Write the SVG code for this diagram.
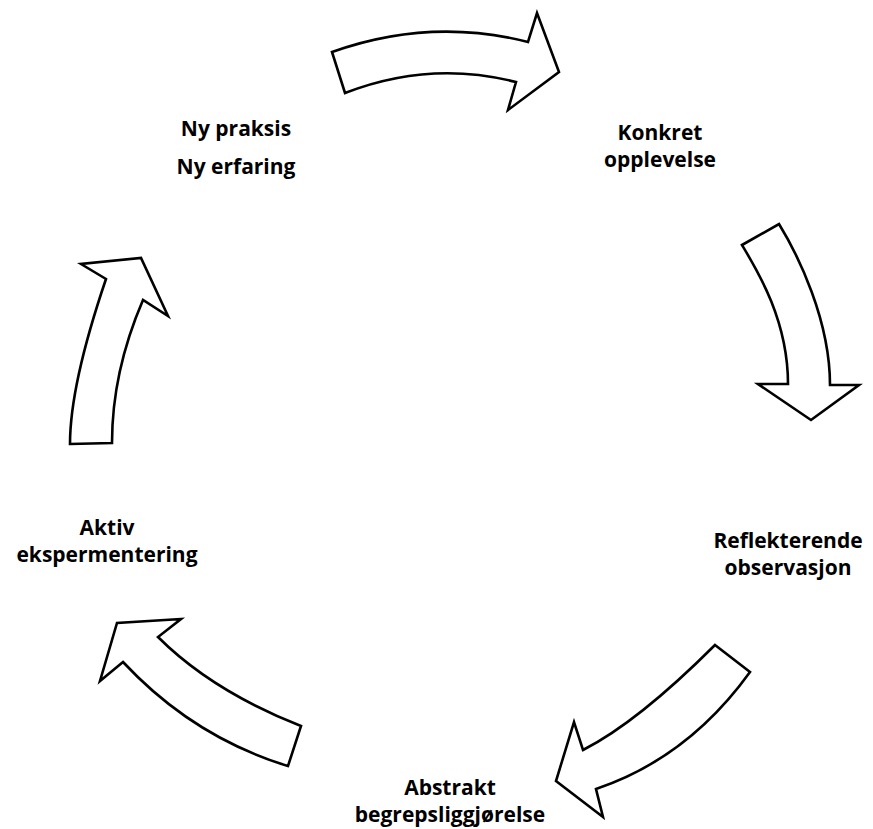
<svg xmlns="http://www.w3.org/2000/svg" width="873" height="829" viewBox="0 0 873 829">
  <style>
    .arrow { fill: #ffffff; stroke: #000000; stroke-width: 2.6; stroke-linejoin: miter; }
    .label { font-family: "Open Sans", "Liberation Sans", sans-serif; font-weight: 700; font-size: 21px; fill: #000000; text-anchor: middle; }
  </style>
  <rect width="873" height="829" fill="#ffffff"/>

  <!-- curved block arrows forming the learning cycle -->
  <g id="connectors">
    <path id="arrow-top" class="arrow" d="M332,52 Q430,17 528,42 L537,13 L559,72 L508,110 L516,82 Q430,60 345,93 Z"/>
    <path id="arrow-right" class="arrow" d="M742,245 L779,224 C798,255 830,320 830,385 L859,385 L811,420 L758,384 L788,384 C788,320 757,270 742,245 Z"/>
    <path id="arrow-bottom-right" class="arrow" d="M715,645 L750,672 Q688,758 596,789 L603,817 L556,781 L574,722 L583,750 Q638,722 715,645 Z"/>
    <path id="arrow-bottom-left" class="arrow" d="M181,619 L117,623 L100,681 L123,662 Q193,737 288,766 L301,726 Q212,691 158,637 Z"/>
    <path id="arrow-left" class="arrow" d="M70,444 L112,443 Q112,372 143,300 L168,316 L141,258 L81,264 L106,279 Q70,385 70,444 Z"/>
  </g>

  <!-- stage labels -->
  <g id="node-ny-praksis">
    <text class="label" x="236" y="136">Ny praksis</text>
    <text class="label" x="236" y="174">Ny erfaring</text>
  </g>
  <g id="node-konkret">
    <text class="label" x="660" y="140">Konkret</text>
    <text class="label" x="660" y="167">opplevelse</text>
  </g>
  <g id="node-reflekterende">
    <text class="label" x="788" y="548">Reflekterende</text>
    <text class="label" x="788" y="575">observasjon</text>
  </g>
  <g id="node-abstrakt">
    <text class="label" x="450" y="795">Abstrakt</text>
    <text class="label" x="450" y="822">begrepsliggjørelse</text>
  </g>
  <g id="node-aktiv">
    <text class="label" x="107" y="535">Aktiv</text>
    <text class="label" x="107" y="562">ekspermentering</text>
  </g>
</svg>
